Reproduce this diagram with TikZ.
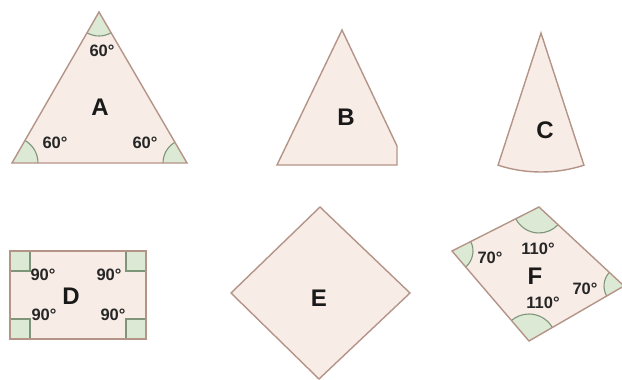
\documentclass[tikz,border=0pt]{standalone}
\usepackage{fontspec}
\setmainfont{Liberation Sans}
\usetikzlibrary{calc}
\definecolor{shapefill}{HTML}{F7ECE6}
\definecolor{shapeedge}{HTML}{B59488}
\definecolor{angfillc}{HTML}{DCE9D5}
\definecolor{angedge}{HTML}{7F957A}
\tikzset{
  shp/.style={fill=shapefill, draw=shapeedge, line width=1.4pt, line join=miter},
  angarc/.style={draw=angedge, line width=1.1pt},
  angf/.style={fill=angfillc},
  big/.style={font=\bfseries\fontsize{24}{24}\selectfont, text=black!90, inner sep=0pt},
  deg/.style={font=\bfseries\fontsize{16.5}{16.5}\selectfont, text=black!85, inner sep=0pt},
}
% sector at vertex #1 between rays to #2 and #3 (counterclockwise from #2 to #3), radius #4
\newcommand\angsec[4]{%
  \fill[angf] let \p1=($(#2)-(#1)$), \p2=($(#3)-(#1)$), \n1={atan2(\y1,\x1)}, \n2={atan2(\y2,\x2)}, \n3={\n2<\n1 ? \n2+360 : \n2} in
    (#1) -- ++(\n1:#4) arc[start angle=\n1, end angle=\n3, radius=#4] -- cycle;
  \draw[angarc] let \p1=($(#2)-(#1)$), \p2=($(#3)-(#1)$), \n1={atan2(\y1,\x1)}, \n2={atan2(\y2,\x2)}, \n3={\n2<\n1 ? \n2+360 : \n2} in
    ($(#1)+(\n1:#4)$) arc[start angle=\n1, end angle=\n3, radius=#4];
}
\begin{document}
\begin{tikzpicture}[x=1pt,y=1pt]
\useasboundingbox (0,0) rectangle (622,-380);
\fill[white] (0,0) rectangle (622,-380);

% ---------- A ----------
\coordinate (At) at (99,-12);
\coordinate (Al) at (12,-163);
\coordinate (Ar) at (187,-163);
\fill[shapefill] (At) -- (Al) -- (Ar) -- cycle;
\angsec{At}{Al}{Ar}{24}
\angsec{Al}{Ar}{At}{26}
\angsec{Ar}{At}{Al}{24}
\draw[shp, fill=none] (At) -- (Al) -- (Ar) -- cycle;
\node[deg] (a1) at (102,-51) {60°};
\node[deg] (a2) at (55,-143) {60°};
\node[deg] (a3) at (145,-143) {60°};
\node[big] (A) at (100,-107) {A};

% ---------- B ----------
\draw[shp] (342,-30) -- (277,-165) -- (397,-165) -- (397,-146) -- cycle;
\node[big] (B) at (346,-117) {B};

% ---------- C ----------
\draw[shp] (541,-33) -- ++(252:139) arc[start angle=252, end angle=288, radius=139] -- cycle;
\node[big] (C) at (545,-130) {C};

% ---------- D ----------
\coordinate (D1) at (10,-251);
\coordinate (D2) at (146,-339);
\fill[shapefill] (D1) rectangle (D2);
\begin{scope}[angf, draw=angedge, line width=1.1pt]
  \filldraw (10,-251) rectangle (30,-271);
  \filldraw (146,-251) rectangle (126,-271);
  \filldraw (10,-339) rectangle (30,-319);
  \filldraw (146,-339) rectangle (126,-319);
\end{scope}
\draw[shp, fill=none] (D1) rectangle (D2);
\node[deg] (d1) at (43,-275) {90°};
\node[deg] (d2) at (109,-275) {90°};
\node[deg] (d3) at (44,-315) {90°};
\node[deg] (d4) at (113,-315) {90°};
\node[big] (D) at (71,-296) {D};

% ---------- E ----------
\draw[shp] (320,-207) -- (231,-293) -- (319,-379) -- (410,-293) -- cycle;
\node[big] (E) at (319,-298) {E};

% ---------- F ----------
\coordinate (Ft) at (539,-207);
\coordinate (Fl) at (452,-251);
\coordinate (Fb) at (529,-341);
\coordinate (Fr) at (624,-286);
\fill[shapefill] (Ft) -- (Fl) -- (Fb) -- (Fr) -- cycle;
\angsec{Ft}{Fl}{Fr}{26}
\angsec{Fl}{Fb}{Ft}{21}
\angsec{Fb}{Fr}{Fl}{27}
\angsec{Fr}{Ft}{Fb}{20}
\draw[shp, fill=none] (Ft) -- (Fl) -- (Fb) -- (Fr) -- cycle;
\node[deg] (f1) at (490,-258) {70°};
\node[deg] (f2) at (538,-249) {110°};
\node[deg] (f3) at (543,-303) {110°};
\node[deg] (f4) at (585,-289) {70°};
\node[big] (F) at (535,-276) {F};
\end{tikzpicture}
\end{document}
